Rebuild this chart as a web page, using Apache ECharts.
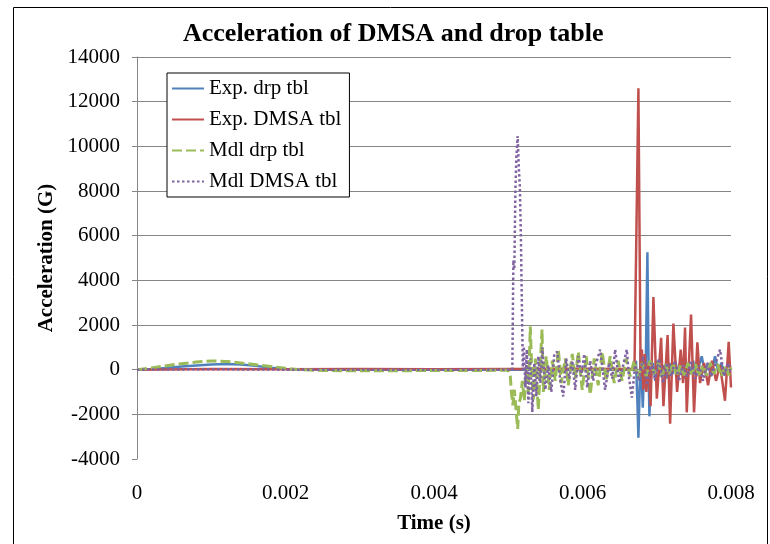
<!DOCTYPE html>
<html>
<head>
<meta charset="utf-8">
<title>Acceleration of DMSA and drop table</title>
<script src="https://cdn.jsdelivr.net/npm/echarts@6.0.0/dist/echarts.min.js"></script>
<style>
    html, body { margin: 0; padding: 0; background: #fff; }
    #chart-acc { width: 770px; height: 544px; }
</style>
</head>
<body>
<div id="chart-acc"></div>
<script>
// time in seconds, acceleration in G
var expDrpT = [
    0, 0.0002, 0.0004, 0.0006, 0.0008, 0.001, 0.0012, 0.0014, 0.0016, 0.0018,
    0.002, 0.0025, 0.003, 0.004, 0.005, 0.006, 0.0067, 0.00672, 0.00674, 0.006753,
    0.00677, 0.006783, 0.0068, 0.006812, 0.00683, 0.00685, 0.006874, 0.00689, 0.006901, 0.00692,
    0.00695, 0.00698, 0.00701, 0.00705, 0.00709, 0.00713, 0.00717, 0.00721, 0.00725, 0.00729,
    0.00733, 0.00737, 0.00741, 0.00745, 0.00749, 0.00753, 0.00757, 0.007606, 0.00765, 0.00769,
    0.00773, 0.007785, 0.00783, 0.00787, 0.00791, 0.00795, 0.008
];
var expDrpV = [
    0, 30, 80, 140, 190, 230, 250, 230, 170, 90,
    30, 0, 0, 0, 0, 0, 0, 400, -1500, -3050,
    -800, 900, -600, -1700, 200, -300, 5260, 200, -2090, -400,
    300, -500, 400, -300, 200, -400, 300, -200, 400, -300,
    200, -400, 300, -200, 400, -300, 200, 600, -200, 300,
    -300, 600, -100, 300, -200, 200, 100
];

var expDmsaT = [
    0, 0.001, 0.002, 0.003, 0.004, 0.005, 0.006, 0.0067, 0.006723, 0.006753,
    0.006783, 0.0068, 0.00682, 0.00684, 0.00686, 0.00689, 0.006917, 0.006955, 0.007001, 0.007059,
    0.00709, 0.007146, 0.00718, 0.007224, 0.007274, 0.007323, 0.007354, 0.007381, 0.007404, 0.007462,
    0.007502, 0.007547, 0.007583, 0.007637, 0.007691, 0.007744, 0.007798, 0.007852, 0.007919, 0.007969,
    0.008
];
var expDmsaV = [
    0, 30, 20, 30, 20, 30, 40, 30, 0, 12600,
    -300, 900, -900, 700, -1000, 300, -1640, 3250, -1300, 1430,
    -1640, 1550, -2420, 2060, -1000, 900, -600, 1890, -1910, 2470,
    -1910, 1220, -600, 300, -700, 400, -500, 200, -1390, 1250,
    -800
];

var mdlDrpT = [
    0, 0.0002, 0.0004, 0.0006, 0.0008, 0.001, 0.0012, 0.0014, 0.0016, 0.0018,
    0.002, 0.0022, 0.0025, 0.003, 0.004, 0.005, 0.005028, 0.005042, 0.005062, 0.005082,
    0.005102, 0.005127, 0.005143, 0.005163, 0.00519, 0.005217, 0.005244, 0.005271, 0.005297, 0.005318,
    0.005338, 0.005365, 0.005405, 0.005432, 0.005455, 0.005472, 0.005512, 0.005553, 0.005593, 0.005633,
    0.005674, 0.005714, 0.005768, 0.005808, 0.005862, 0.005902, 0.005943, 0.005996, 0.00605, 0.006104,
    0.006158, 0.006211, 0.006265, 0.006319, 0.006373, 0.006427, 0.00648, 0.006534, 0.006588, 0.006642,
    0.006696, 0.006749, 0.006803, 0.006857, 0.006911, 0.006965, 0.007019, 0.00707, 0.00712, 0.00717,
    0.00722, 0.00727, 0.00732, 0.00737, 0.00742, 0.00747, 0.00752, 0.00757, 0.00762, 0.00767,
    0.00772, 0.00777, 0.00782, 0.00787, 0.00792, 0.00797, 0.008
];
var mdlDrpV = [
    0, 80, 180, 270, 340, 390, 370, 300, 220, 140,
    60, 0, -40, -50, -40, -30, -300, -1000, -1600, -900,
    -1700, -2650, -1500, -1300, -500, -1400, 200, -1000, 1930, -200,
    -1340, 500, -1800, 300, 1800, -1000, 600, -900, 400, -500,
    900, -600, 500, -700, 700, -400, 800, -900, 600, -1120,
    500, -700, 800, -500, 600, -600, 400, -500, 500, -300,
    400, -400, 300, -300, 400, -200, 300, -300, 250, -250,
    300, -300, 200, -250, 300, -200, 250, -300, 200, -250,
    300, -200, 250, -300, 200, -250, 100
];

var mdlDmsaT = [
    0, 0.001, 0.002, 0.003, 0.004, 0.005, 0.005055, 0.005069, 0.005082, 0.005096,
    0.005109, 0.005127, 0.005143, 0.005156, 0.00517, 0.005183, 0.005197, 0.00521, 0.00523, 0.00525,
    0.005271, 0.005297, 0.005324, 0.005351, 0.005378, 0.005405, 0.005432, 0.005459, 0.005499, 0.005539,
    0.00558, 0.00562, 0.00566, 0.005701, 0.005741, 0.005781, 0.005822, 0.005862, 0.005902, 0.005943,
    0.005983, 0.006023, 0.006064, 0.006104, 0.006144, 0.006185, 0.006238, 0.006305, 0.006359, 0.0064,
    0.00644, 0.006494, 0.006548, 0.006597, 0.006628, 0.006665, 0.006709, 0.006763, 0.006817, 0.00687,
    0.006924, 0.006978, 0.007032, 0.007085, 0.007139, 0.007193, 0.007247, 0.0073, 0.007354, 0.007408,
    0.007462, 0.007516, 0.00757, 0.007624, 0.007677, 0.007731, 0.007785, 0.007852, 0.007906, 0.00796,
    0.008
];
var mdlDmsaV = [
    0, 20, 0, 0, 0, 0, 0, 4900, 4500, 8000,
    9500, 10460, 9000, 8200, 6000, 3000, 0, 1040, -800, 900,
    -1500, 500, -1900, 300, -1200, 600, -600, 1000, -900, 200,
    -1000, 700, 800, -500, -1200, 500, -400, 400, -900, 600,
    -300, 700, -800, 400, -500, 300, 900, -900, 300, -400,
    900, -600, 200, 900, -400, -1250, 200, -500, 600, -700,
    300, -400, 500, -600, 300, -300, 400, -500, 200, -300,
    400, -400, 200, -500, 300, -300, 200, 900, -300, 300,
    -200
];

var seriesNames = ['Exp. drp tbl', 'Exp. DMSA tbl', 'Mdl drp tbl', 'Mdl DMSA tbl'];

function pairs(t, v) {
    return t.map(function (x, i) { return [x, v[i]]; });
}

var chartDom = document.getElementById('chart-acc');
var myChart = echarts.init(chartDom, null, { renderer: 'canvas' });
var serif = 'Liberation Serif';
var option;

option = {
    animation: false,
    backgroundColor: '#fff',
    title: {
        text: 'Acceleration of DMSA and drop table',
        left: 183,
        top: 21,
        padding: 0,
        textStyle: { fontFamily: serif, fontWeight: 'bold', fontSize: 26, color: '#000' }
    },
    legend: {
        data: seriesNames,
        orient: 'vertical',
        left: 167,
        top: 73,
        padding: [5, 8, 5, 4],
        itemGap: 10,
        itemWidth: 32,
        itemHeight: 14,
        itemStyle: { opacity: 0 },
        backgroundColor: '#fff',
        borderColor: '#000',
        borderWidth: 1,
        textStyle: { fontFamily: serif, fontSize: 21, color: '#000', lineHeight: 20 }
    },
    grid: {
        left: 137,
        right: 39,
        top: 57,
        bottom: 85,
        outerBoundsMode: 'none'
    },
    xAxis: {
        type: 'value',
        name: 'Time (s)',
        nameLocation: 'middle',
        nameGap: 54,
        nameTextStyle: { fontFamily: serif, fontWeight: 'bold', fontSize: 21, color: '#000' },
        min: 0,
        max: 0.008,
        interval: 0.002,
        axisLine: { show: false },
        axisTick: { show: false },
        splitLine: { show: false },
        axisLabel: {
            margin: 24,
            fontFamily: serif,
            fontSize: 21,
            color: '#000',
            formatter: function (value) {
                return value === 0 ? '0' : value.toFixed(3);
            }
        }
    },
    yAxis: {
        type: 'value',
        name: 'Acceleration (G)',
        nameLocation: 'middle',
        nameGap: 76,
        nameTextStyle: { fontFamily: serif, fontWeight: 'bold', fontSize: 21, color: '#000' },
        min: -4000,
        max: 14000,
        interval: 2000,
        axisLine: { show: true, lineStyle: { color: '#868686', width: 1 } },
        axisTick: { show: true, length: 5, lineStyle: { color: '#868686' } },
        splitLine: { show: true, showMinLine: false, lineStyle: { color: '#868686', width: 1 } },
        axisLabel: {
            margin: 17,
            fontFamily: serif,
            fontSize: 21,
            color: '#000',
            formatter: function (value) {
                return String(value);
            }
        }
    },
    series: [
        {
            name: seriesNames[0],
            type: 'line',
            color: '#4F81BD',
            symbol: 'none',
            lineStyle: { width: 2.5 },
            data: pairs(expDrpT, expDrpV)
        },
        {
            name: seriesNames[1],
            type: 'line',
            color: '#C0504D',
            symbol: 'none',
            lineStyle: { width: 2.5 },
            data: pairs(expDmsaT, expDmsaV)
        },
        {
            name: seriesNames[2],
            type: 'line',
            color: '#9BBB59',
            symbol: 'none',
            lineStyle: { width: 3, type: [10, 4] },
            data: pairs(mdlDrpT, mdlDrpV)
        },
        {
            name: seriesNames[3],
            type: 'line',
            color: '#8064A2',
            symbol: 'none',
            lineStyle: { width: 2.5, type: [2.5, 2.5] },
            data: pairs(mdlDmsaT, mdlDmsaV)
        }
    ],
    graphic: [
        {
            type: 'rect',
            silent: true,
            shape: { x: 13.5, y: 7.5, width: 754, height: 545 },
            style: { fill: 'none', stroke: '#000', lineWidth: 1 }
        }
    ]
};

option && myChart.setOption(option);
</script>
</body>
</html>
